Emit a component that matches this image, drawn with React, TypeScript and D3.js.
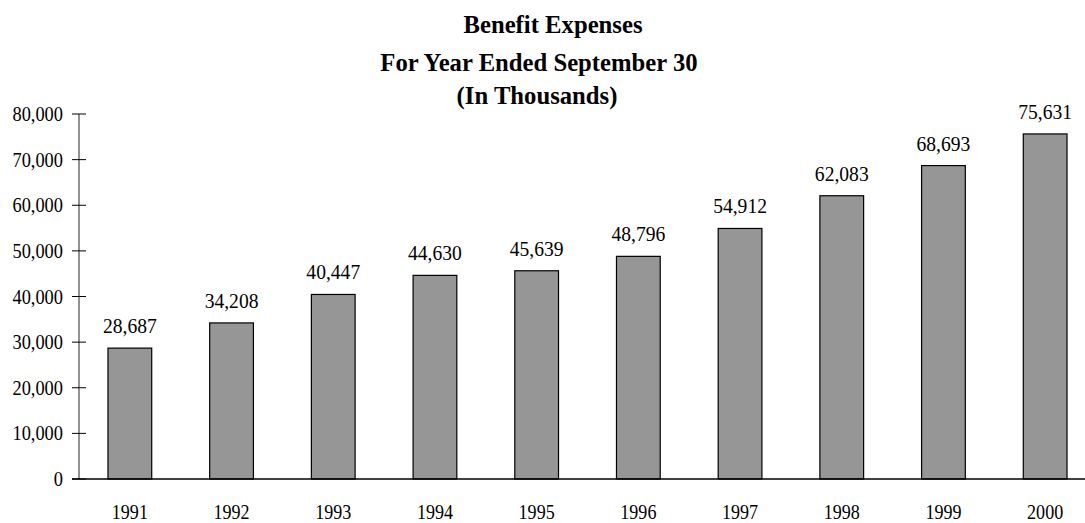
import React from 'react';
import * as d3 from 'd3';

const years = ['1991', '1992', '1993', '1994', '1995', '1996', '1997', '1998', '1999', '2000'];
const expenses = [28687, 34208, 40447, 44630, 45639, 48796, 54912, 62083, 68693, 75631];
const yTicks = [0, 10000, 20000, 30000, 40000, 50000, 60000, 70000, 80000];
const titleLines = ['Benefit Expenses', 'For Year Ended September 30', '(In Thousands)'];

const W = 1085, H = 523;
const FONT = '"Liberation Serif", "Times New Roman", serif';

// squeezed text, the original looks like a narrow Times
const Squeezed = ({ x, y, sx, size, anchor, children, bold }: any) => (
  <text
    transform={`translate(${x},${y}) scale(${sx},1)`}
    fontSize={size}
    textAnchor={anchor}
    fontWeight={bold ? 'bold' : 'normal'}
    fontFamily={FONT}
    fill="#000"
  >
    {children}
  </text>
);

export default function App() {
  const x = d3.scaleBand().domain(years).range([79, 1096]).paddingInner(0.57).paddingOuter(0.285);
  const y = d3.scaleLinear().domain([0, 80000]).range([479, 114]);
  const fmt = d3.format(',');

  const titleX = [553, 539, 537];
  const titleY = [33, 71, 104];

  return (
    <svg width={W} height={H} style={{ position: 'absolute', left: 0, top: 0, background: '#fff' }}>
      {/* title */}
      {titleLines.map((t, i) => (
        <Squeezed key={t} x={titleX[i]} y={titleY[i]} sx={0.95} size={26} anchor="middle" bold>
          {t}
        </Squeezed>
      ))}

      {/* y axis */}
      <line x1={79} x2={79} y1={y(80000)} y2={y(0)} stroke="#6e6e6e" strokeWidth={1.5} />
      {yTicks.map((t) => (
        <g key={t}>
          <line x1={72} x2={86} y1={y(t)} y2={y(t)} stroke="#000" strokeWidth={1} />
          <Squeezed x={63} y={y(t) + 7} sx={0.92} size={20} anchor="end">
            {fmt(t)}
          </Squeezed>
        </g>
      ))}

      {/* bars */}
      {years.map((yr, i) => (
        <rect
          key={yr}
          x={x(yr)}
          y={y(expenses[i])}
          width={x.bandwidth()}
          height={y(0) - y(expenses[i])}
          fill="#969696"
          stroke="#000"
          strokeWidth={1.2}
        />
      ))}

      {/* baseline */}
      <line x1={72} x2={W} y1={y(0)} y2={y(0)} stroke="#000" strokeWidth={1.5} />

      {/* value labels */}
      {years.map((yr, i) => (
        <Squeezed key={yr} x={x(yr)! + x.bandwidth() / 2} y={y(expenses[i]) - 15} sx={0.89} size={22} anchor="middle">
          {fmt(expenses[i])}
        </Squeezed>
      ))}

      {/* year labels */}
      {years.map((yr) => (
        <Squeezed key={yr} x={x(yr)! + x.bandwidth() / 2} y={519} sx={0.86} size={21} anchor="middle">
          {yr}
        </Squeezed>
      ))}
    </svg>
  );
}
